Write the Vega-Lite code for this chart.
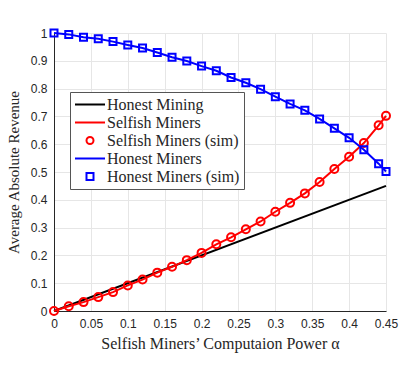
{
  "$schema": "https://vega.github.io/schema/vega-lite/v6.json",
  "autosize": "none",
  "width": 332,
  "height": 278,
  "padding": {"left": 54, "top": 33, "right": 29, "bottom": 63},
  "background": "white",
  "datasets": {
    "rows": [
      {"alpha": 0, "value": 0, "series": "Honest Mining"},
      {"alpha": 0.45, "value": 0.45, "series": "Honest Mining"},
      {"alpha": 0, "value": 0, "series": "Selfish Miners"},
      {"alpha": 0.02, "value": 0.017, "series": "Selfish Miners"},
      {"alpha": 0.04, "value": 0.032, "series": "Selfish Miners"},
      {"alpha": 0.06, "value": 0.05, "series": "Selfish Miners"},
      {"alpha": 0.08, "value": 0.068, "series": "Selfish Miners"},
      {"alpha": 0.1, "value": 0.092, "series": "Selfish Miners"},
      {"alpha": 0.12, "value": 0.113, "series": "Selfish Miners"},
      {"alpha": 0.14, "value": 0.138, "series": "Selfish Miners"},
      {"alpha": 0.16, "value": 0.159, "series": "Selfish Miners"},
      {"alpha": 0.18, "value": 0.183, "series": "Selfish Miners"},
      {"alpha": 0.2, "value": 0.209, "series": "Selfish Miners"},
      {"alpha": 0.22, "value": 0.24, "series": "Selfish Miners"},
      {"alpha": 0.24, "value": 0.265, "series": "Selfish Miners"},
      {"alpha": 0.26, "value": 0.294, "series": "Selfish Miners"},
      {"alpha": 0.28, "value": 0.322, "series": "Selfish Miners"},
      {"alpha": 0.3, "value": 0.357, "series": "Selfish Miners"},
      {"alpha": 0.32, "value": 0.389, "series": "Selfish Miners"},
      {"alpha": 0.34, "value": 0.423, "series": "Selfish Miners"},
      {"alpha": 0.36, "value": 0.464, "series": "Selfish Miners"},
      {"alpha": 0.38, "value": 0.511, "series": "Selfish Miners"},
      {"alpha": 0.4, "value": 0.555, "series": "Selfish Miners"},
      {"alpha": 0.42, "value": 0.604, "series": "Selfish Miners"},
      {"alpha": 0.44, "value": 0.668, "series": "Selfish Miners"},
      {"alpha": 0.45, "value": 0.702, "series": "Selfish Miners"},
      {"alpha": 0, "value": 0, "series": "Selfish Miners (sim)"},
      {"alpha": 0.02, "value": 0.017, "series": "Selfish Miners (sim)"},
      {"alpha": 0.04, "value": 0.032, "series": "Selfish Miners (sim)"},
      {"alpha": 0.06, "value": 0.05, "series": "Selfish Miners (sim)"},
      {"alpha": 0.08, "value": 0.068, "series": "Selfish Miners (sim)"},
      {"alpha": 0.1, "value": 0.092, "series": "Selfish Miners (sim)"},
      {"alpha": 0.12, "value": 0.113, "series": "Selfish Miners (sim)"},
      {"alpha": 0.14, "value": 0.138, "series": "Selfish Miners (sim)"},
      {"alpha": 0.16, "value": 0.159, "series": "Selfish Miners (sim)"},
      {"alpha": 0.18, "value": 0.183, "series": "Selfish Miners (sim)"},
      {"alpha": 0.2, "value": 0.209, "series": "Selfish Miners (sim)"},
      {"alpha": 0.22, "value": 0.24, "series": "Selfish Miners (sim)"},
      {"alpha": 0.24, "value": 0.265, "series": "Selfish Miners (sim)"},
      {"alpha": 0.26, "value": 0.294, "series": "Selfish Miners (sim)"},
      {"alpha": 0.28, "value": 0.322, "series": "Selfish Miners (sim)"},
      {"alpha": 0.3, "value": 0.357, "series": "Selfish Miners (sim)"},
      {"alpha": 0.32, "value": 0.389, "series": "Selfish Miners (sim)"},
      {"alpha": 0.34, "value": 0.423, "series": "Selfish Miners (sim)"},
      {"alpha": 0.36, "value": 0.464, "series": "Selfish Miners (sim)"},
      {"alpha": 0.38, "value": 0.511, "series": "Selfish Miners (sim)"},
      {"alpha": 0.4, "value": 0.555, "series": "Selfish Miners (sim)"},
      {"alpha": 0.42, "value": 0.604, "series": "Selfish Miners (sim)"},
      {"alpha": 0.44, "value": 0.668, "series": "Selfish Miners (sim)"},
      {"alpha": 0.45, "value": 0.702, "series": "Selfish Miners (sim)"},
      {"alpha": 0, "value": 1.0, "series": "Honest Miners"},
      {"alpha": 0.02, "value": 0.995, "series": "Honest Miners"},
      {"alpha": 0.04, "value": 0.985, "series": "Honest Miners"},
      {"alpha": 0.06, "value": 0.979, "series": "Honest Miners"},
      {"alpha": 0.08, "value": 0.969, "series": "Honest Miners"},
      {"alpha": 0.1, "value": 0.957, "series": "Honest Miners"},
      {"alpha": 0.12, "value": 0.946, "series": "Honest Miners"},
      {"alpha": 0.14, "value": 0.93, "series": "Honest Miners"},
      {"alpha": 0.16, "value": 0.913, "series": "Honest Miners"},
      {"alpha": 0.18, "value": 0.899, "series": "Honest Miners"},
      {"alpha": 0.2, "value": 0.881, "series": "Honest Miners"},
      {"alpha": 0.22, "value": 0.864, "series": "Honest Miners"},
      {"alpha": 0.24, "value": 0.84, "series": "Honest Miners"},
      {"alpha": 0.26, "value": 0.821, "series": "Honest Miners"},
      {"alpha": 0.28, "value": 0.798, "series": "Honest Miners"},
      {"alpha": 0.3, "value": 0.771, "series": "Honest Miners"},
      {"alpha": 0.32, "value": 0.745, "series": "Honest Miners"},
      {"alpha": 0.34, "value": 0.722, "series": "Honest Miners"},
      {"alpha": 0.36, "value": 0.691, "series": "Honest Miners"},
      {"alpha": 0.38, "value": 0.657, "series": "Honest Miners"},
      {"alpha": 0.4, "value": 0.623, "series": "Honest Miners"},
      {"alpha": 0.42, "value": 0.58, "series": "Honest Miners"},
      {"alpha": 0.44, "value": 0.53, "series": "Honest Miners"},
      {"alpha": 0.45, "value": 0.502, "series": "Honest Miners"},
      {"alpha": 0, "value": 1.0, "series": "Honest Miners (sim)"},
      {"alpha": 0.02, "value": 0.995, "series": "Honest Miners (sim)"},
      {"alpha": 0.04, "value": 0.985, "series": "Honest Miners (sim)"},
      {"alpha": 0.06, "value": 0.979, "series": "Honest Miners (sim)"},
      {"alpha": 0.08, "value": 0.969, "series": "Honest Miners (sim)"},
      {"alpha": 0.1, "value": 0.957, "series": "Honest Miners (sim)"},
      {"alpha": 0.12, "value": 0.946, "series": "Honest Miners (sim)"},
      {"alpha": 0.14, "value": 0.93, "series": "Honest Miners (sim)"},
      {"alpha": 0.16, "value": 0.913, "series": "Honest Miners (sim)"},
      {"alpha": 0.18, "value": 0.899, "series": "Honest Miners (sim)"},
      {"alpha": 0.2, "value": 0.881, "series": "Honest Miners (sim)"},
      {"alpha": 0.22, "value": 0.864, "series": "Honest Miners (sim)"},
      {"alpha": 0.24, "value": 0.84, "series": "Honest Miners (sim)"},
      {"alpha": 0.26, "value": 0.821, "series": "Honest Miners (sim)"},
      {"alpha": 0.28, "value": 0.798, "series": "Honest Miners (sim)"},
      {"alpha": 0.3, "value": 0.771, "series": "Honest Miners (sim)"},
      {"alpha": 0.32, "value": 0.745, "series": "Honest Miners (sim)"},
      {"alpha": 0.34, "value": 0.722, "series": "Honest Miners (sim)"},
      {"alpha": 0.36, "value": 0.691, "series": "Honest Miners (sim)"},
      {"alpha": 0.38, "value": 0.657, "series": "Honest Miners (sim)"},
      {"alpha": 0.4, "value": 0.623, "series": "Honest Miners (sim)"},
      {"alpha": 0.42, "value": 0.58, "series": "Honest Miners (sim)"},
      {"alpha": 0.44, "value": 0.53, "series": "Honest Miners (sim)"},
      {"alpha": 0.45, "value": 0.502, "series": "Honest Miners (sim)"}
    ]
  },
  "data": {"name": "rows"},
  "encoding": {
    "x": {
      "field": "alpha", "type": "quantitative",
      "scale": {"domain": [0, 0.45], "nice": false, "zero": false},
      "axis": {
        "title": "Selfish Miners’ Computaion Power α",
        "titleFontSize": 16,
        "values": [0, 0.05, 0.1, 0.15, 0.2, 0.25, 0.3, 0.35, 0.4, 0.45],
        "format": "~g",
        "labelPadding": 7,
        "titlePadding": 6,
        "labelFlush": false
      }
    },
    "y": {
      "field": "value", "type": "quantitative",
      "scale": {"domain": [0, 1], "nice": false},
      "axis": {
        "title": "Average Absolute Revenue",
        "titleFontSize": 15,
        "values": [0, 0.1, 0.2, 0.3, 0.4, 0.5, 0.6, 0.7, 0.8, 0.9, 1],
        "format": "~g",
        "labelPadding": 7,
        "titlePadding": 9,
        "labelFlush": false
      }
    },
    "color": {
      "field": "series", "type": "nominal",
      "scale": {
        "domain": ["Honest Mining", "Selfish Miners", "Selfish Miners (sim)", "Honest Miners", "Honest Miners (sim)"],
        "range": ["#000000", "#ff0000", "#ff0000", "#0000ff", "#0000ff"]
      },
      "legend": {
        "title": null,
        "orient": "none",
        "legendX": 16,
        "legendY": 59,
        "padding": 4,
        "strokeColor": "#555555",
        "fillColor": "white",
        "labelFont": "Liberation Serif",
        "labelFontSize": 16,
        "labelColor": "#262626",
        "symbolSize": 225,
        "symbolStrokeWidth": 2,
        "rowPadding": 1,
        "labelOffset": 16,
        "encode": {
          "symbols": {
            "update": {
              "shape": {"signal": "datum.value == 'Selfish Miners (sim)' ? 'M1.467,0A0.467,0.467,0,1,1,0.533,0A0.467,0.467,0,1,1,1.467,0Z' : (datum.value == 'Honest Miners (sim)' ? 'M0.533,-0.467H1.467V0.467H0.533Z' : 'M-1,0H3')"}
            }
          }
        }
      }
    }
  },
  "layer": [
    {
      "transform": [{"filter": "indexof(datum.series, '(sim)') < 0"}],
      "mark": {"type": "line", "strokeWidth": 2}
    },
    {
      "transform": [{"filter": "datum.series == 'Selfish Miners (sim)'"}],
      "mark": {"type": "point", "shape": "circle", "filled": false, "size": 64, "strokeWidth": 2, "opacity": 1}
    },
    {
      "transform": [{"filter": "datum.series == 'Honest Miners (sim)'"}],
      "mark": {"type": "point", "shape": "square", "filled": false, "size": 49, "strokeWidth": 2, "opacity": 1}
    }
  ],
  "config": {
    "view": {"stroke": null},
    "axis": {
      "domainColor": "#262626",
      "domainWidth": 1,
      "ticks": false,
      "labelFont": "Liberation Sans",
      "labelFontSize": 12,
      "labelColor": "#262626",
      "titleFont": "Liberation Serif",
      "titleFontWeight": "normal",
      "titleColor": "#262626",
      "gridColor": "#e6e6e6",
      "gridWidth": 1
    }
  }
}
